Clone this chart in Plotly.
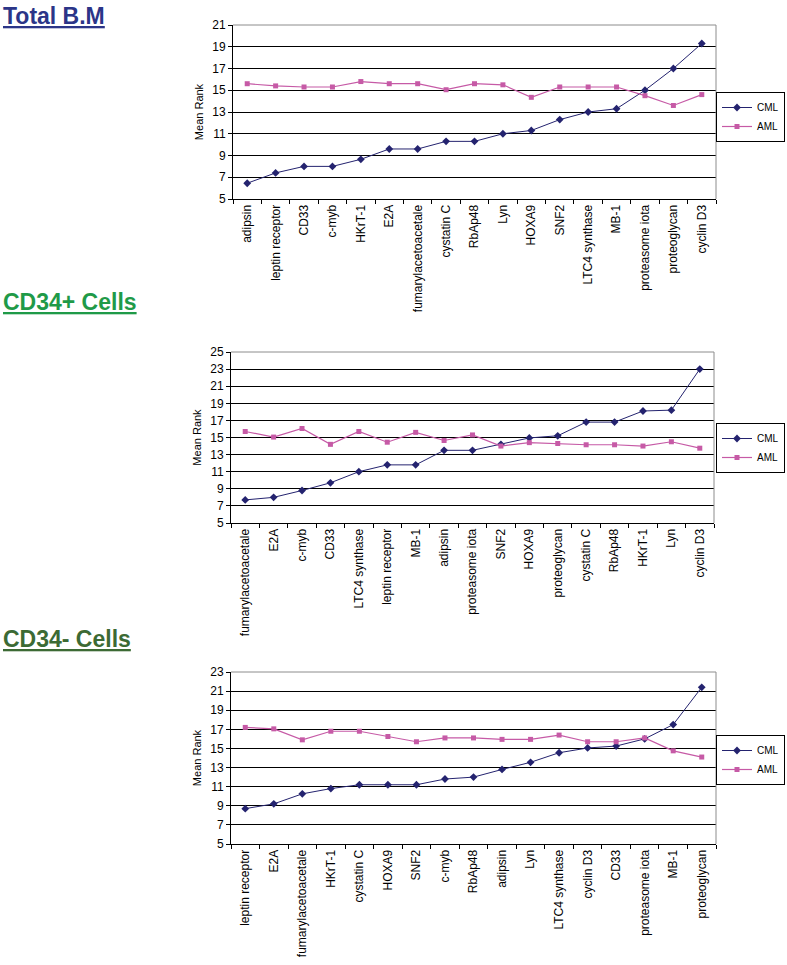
import plotly.graph_objects as go

W, H = 787, 965

# ---------------- data ----------------
cats_total = ["adipsin", "leptin receptor", "CD33", "c-myb", "HKrT-1", "E2A",
              "fumarylacetoacetale", "cystatin C", "RbAp48", "Lyn", "HOXA9", "SNF2",
              "LTC4 synthase", "MB-1", "proteasome iota", "proteoglycan", "cyclin D3"]
cml_total = [6.45, 7.4, 8.0, 8.0, 8.65, 9.6, 9.6, 10.3, 10.3, 11.0, 11.3, 12.3,
             13.0, 13.3, 15.0, 17.0, 19.3]
aml_total = [15.6, 15.4, 15.3, 15.3, 15.8, 15.6, 15.6, 15.05, 15.6, 15.5, 14.35, 15.3,
             15.3, 15.3, 14.5, 13.6, 14.6]

cats_pos = ["fumarylacetoacetale", "E2A", "c-myb", "CD33", "LTC4 synthase",
            "leptin receptor", "MB-1", "adipsin", "proteasome iota", "SNF2", "HOXA9",
            "proteoglycan", "cystatin C", "RbAp48", "HKrT-1", "Lyn", "cyclin D3"]
cml_pos = [7.7, 8.0, 8.8, 9.7, 11.0, 11.8, 11.8, 13.5, 13.5, 14.2, 14.95, 15.2,
           16.8, 16.8, 18.1, 18.2, 23.0]
aml_pos = [15.7, 15.05, 16.05, 14.2, 15.7, 14.45, 15.6, 14.65, 15.3, 14.0, 14.4, 14.3,
           14.15, 14.15, 14.0, 14.5, 13.75]

cats_neg = ["leptin receptor", "E2A", "fumarylacetoacetale", "HKrT-1", "cystatin C",
            "HOXA9", "SNF2", "c-myb", "RbAp48", "adipsin", "Lyn", "LTC4 synthase",
            "cyclin D3", "CD33", "proteasome iota", "MB-1", "proteoglycan"]
cml_neg = [8.7, 9.2, 10.25, 10.8, 11.2, 11.2, 11.2, 11.8, 12.0, 12.8, 13.55, 14.55,
           15.05, 15.25, 16.0, 17.5, 21.4]
aml_neg = [17.2, 17.05, 15.9, 16.8, 16.8, 16.25, 15.7, 16.1, 16.1, 15.95, 15.95, 16.4,
           15.7, 15.7, 16.1, 14.75, 14.1]

titles = ["Total B.M", "CD34+ Cells", "CD34- Cells"]
title_colors = ["#2b3588", "#1f9a48", "#3c6a34"]
yranges = [(5, 21), (5, 25), (5, 23)]

CML_COLOR = "#24236f"
AML_COLOR = "#c65aa6"
FONT = "Liberation Sans, Arial, sans-serif"

# pixel boxes for each plot area: (left, right, top, bottom)
boxes = [(233, 716, 25, 199), (231, 714, 352, 523), (231, 716, 672, 844)]
legend_top = [92, 423, 735]
title_pos = [(1, 1), (1, 287), (1, 624)]
tick_sizes = [12, 12, 12]

fig = go.Figure()
datasets = [(cats_total, cml_total, aml_total),
            (cats_pos, cml_pos, aml_pos),
            (cats_neg, cml_neg, aml_neg)]

shapes = []
annotations = []
for i, (cats, cml, aml) in enumerate(datasets):
    n = "" if i == 0 else str(i + 1)
    xa, ya = "x" + n, "y" + n
    lg = "legend" + n
    fig.add_trace(go.Scatter(x=cats, y=cml, name="CML", mode="lines+markers",
                             line=dict(color=CML_COLOR, width=1),
                             marker=dict(symbol="diamond", size=6, color=CML_COLOR),
                             xaxis=xa, yaxis=ya, legend=lg))
    fig.add_trace(go.Scatter(x=cats, y=aml, name="AML", mode="lines+markers",
                             line=dict(color=AML_COLOR, width=1.2),
                             marker=dict(symbol="square", size=5, color=AML_COLOR),
                             xaxis=xa, yaxis=ya, legend=lg))
    l, r, t, b = boxes[i]
    lo, hi = yranges[i]
    fig.update_layout(**{
        "xaxis" + n: dict(domain=[l / W, r / W], anchor=ya, type="category",
                          tickangle=-90, tickson="boundaries", ticks="outside",
                          ticklen=4, tickcolor="black", showline=True,
                          linecolor="black", linewidth=1, showgrid=False,
                          automargin=False,
                          tickfont=dict(family=FONT, size=tick_sizes[i], color="black"),
                          range=[-0.5, len(cats) - 0.5]),
        "yaxis" + n: dict(domain=[1 - b / H, 1 - t / H], anchor=xa,
                          range=[lo, hi], dtick=2, tick0=5, ticks="outside",
                          ticklen=4, tickcolor="black", showline=True,
                          linecolor="black", linewidth=1, showgrid=True,
                          gridcolor="black", gridwidth=1, zeroline=False,
                          automargin=False,
                          tickfont=dict(family=FONT, size=12, color="black"),
                          title=dict(text="Mean Rank", standoff=6,
                                     font=dict(family=FONT, size=11, color="black"))),
        lg: dict(x=785 / W, y=1 - legend_top[i] / H,
                 xanchor="right", yanchor="top", bgcolor="white",
                 bordercolor="black", borderwidth=1, itemwidth=30,
                 tracegroupgap=0,
                 font=dict(family=FONT, size=10, color="black")),
    })
    # gray plot-area border on top and right
    shapes.append(dict(type="line", xref=xa + " domain", yref=ya + " domain",
                       x0=0, x1=1, y0=1, y1=1, line=dict(color="#8c8c8c", width=1),
                       layer="above"))
    shapes.append(dict(type="line", xref=xa + " domain", yref=ya + " domain",
                       x0=1, x1=1, y0=0, y1=1, line=dict(color="#8c8c8c", width=1),
                       layer="above"))
    tx, ty = title_pos[i]
    annotations.append(dict(text="<b><u>" + titles[i] + "</u></b>", xref="paper",
                            yref="paper", x=tx / W, y=1 - ty / H, xanchor="left",
                            yanchor="top", showarrow=False,
                            font=dict(family=FONT, size=23, color=title_colors[i])))

fig.update_layout(width=W, height=H,
                  margin=dict(l=0, r=0, t=0, b=0, pad=0, autoexpand=False),
                  paper_bgcolor="white", plot_bgcolor="white",
                  shapes=shapes, annotations=annotations, showlegend=True)

fig.write_html("out.html", config={"displayModeBar": False},
               post_script="document.body.style.margin='0';document.body.style.overflow='hidden';")
